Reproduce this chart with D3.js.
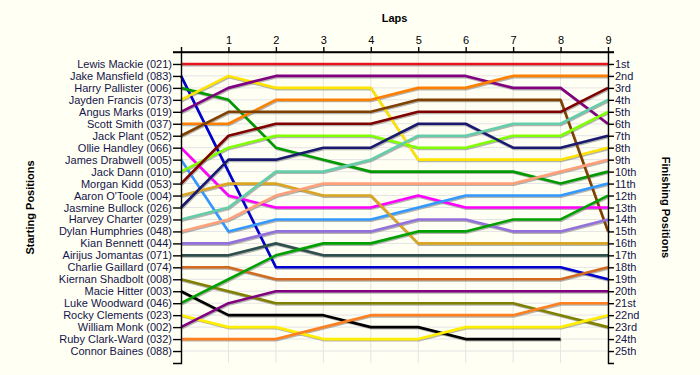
<!DOCTYPE html>
<html>
<head>
<meta charset="utf-8">
<script src="https://cdn.jsdelivr.net/npm/d3@7"></script>
<style>
  html, body { margin: 0; padding: 0; background: #fffff4; }
  .canvas svg { display: block; font-family: "Liberation Sans", Arial, sans-serif; }
</style>
</head>
<body>
<div class="canvas"></div>
<script>
const laps = [0, 1, 2, 3, 4, 5, 6, 7, 8, 9];

const drivers = [
  "Lewis Mackie (021)", "Jake Mansfield (083)", "Harry Pallister (006)",
  "Jayden Francis (073)", "Angus Marks (019)", "Scott Smith (037)",
  "Jack Plant (052)", "Ollie Handley (066)", "James Drabwell (005)",
  "Jack Dann (010)", "Morgan Kidd (053)", "Aaron O'Toole (004)",
  "Jasmine Bullock (026)", "Harvey Charter (029)", "Dylan Humphries (048)",
  "Kian Bennett (044)", "Airijus Jomantas (071)", "Charlie Gaillard (074)",
  "Kiernan Shadbolt (008)", "Macie Hitter (003)", "Luke Woodward (046)",
  "Rocky Clements (023)", "William Monk (002)", "Ruby Clark-Ward (032)",
  "Connor Baines (088)",
];

const finishLabels = [
  "1st", "2nd", "3rd", "4th", "5th", "6th", "7th", "8th", "9th", "10th",
  "11th", "12th", "13th", "14th", "15th", "16th", "17th", "18th", "19th",
  "20th", "21st", "22nd", "23rd", "24th", "25th",
];

// position of each driver at lap 0..9 (null = not running)
const positions = [
  [1, 1, 1, 1, 1, 1, 1, 1, 1, 1],
  [2, 10, 18, 18, 18, 18, 18, 18, 18, 19],
  [3, 4, 8, 9, 10, 10, 10, 10, 11, 10],
  [4, 2, 3, 3, 3, 9, 9, 9, 9, 8],
  [5, 3, 2, 2, 2, 2, 2, 3, 3, 6],
  [6, 6, 4, 4, 4, 3, 3, 2, 2, 2],
  [7, 5, 5, 5, 5, 4, 4, 4, 4, 15],
  [8, 12, 13, 13, 13, 12, 13, 13, 13, 13],
  [9, 15, 14, 14, 14, 13, 12, 12, 12, 11],
  [10, 8, 7, 7, 7, 8, 8, 7, 7, 5],
  [11, 7, 6, 6, 6, 5, 5, 5, 5, 3],
  [12, 11, 11, 12, 12, 16, 16, 16, 16, 16],
  [13, 9, 9, 8, 8, 6, 6, 8, 8, 7],
  [14, 13, 10, 10, 9, 7, 7, 6, 6, 4],
  [15, 14, 12, 11, 11, 11, 11, 11, 10, 9],
  [16, 16, 15, 15, 15, 14, 14, 15, 15, 14],
  [17, 17, 16, 17, 17, 17, 17, 17, 17, 17],
  [18, 18, 19, 19, 19, 19, 19, 19, 19, 18],
  [19, 20, 21, 21, 21, 21, 21, 21, 22, 23],
  [20, 22, 22, 22, 23, 23, 24, 24, 24, null],
  [21, 19, 17, 16, 16, 15, 15, 14, 14, 12],
  [22, 23, 23, 24, 24, 24, 23, 23, 23, 22],
  [23, 21, 20, 20, 20, 20, 20, 20, 20, 20],
  [24, 24, 24, 23, 22, 22, 22, 22, 21, 21],
  [null, null, null, null, null, null, null, null, null, null],
];

const colors = [
  "#e8141c", "#0000d0", "#009a00", "#ffe400", "#800080", "#ff8000",
  "#804000", "#ff00ff", "#3399ff", "#80ff00", "#800000", "#daa520",
  "#191970", "#66cdaa", "#ffa07a", "#9370db", "#2f4f4f", "#d2691e",
  "#808000", "#000000", "#00a000", "#ffee00", "#800080", "#ff8020",
  "#999999",
];

const WIDTH = 700,
  HEIGHT = 375,
  PLOT = { left: 181, right: 608, top: 52, bottom: 363 },
  TICK = 8,
  FONT = 11;

let svg, x, y, line;

document.addEventListener("DOMContentLoaded", function () {
  setSVG();
  setScales();
  drawGrid();
  drawLines();
  drawAxes();
  drawTitles();
});

function setSVG() {
  svg = d3
    .select(".canvas")
    .append("svg")
    .attr("width", WIDTH)
    .attr("height", HEIGHT);

  svg
    .append("rect")
    .attr("width", WIDTH)
    .attr("height", HEIGHT)
    .attr("fill", "#fffff4");
}

function setScales() {
  x = d3.scaleLinear().domain([0, 9]).range([PLOT.left, PLOT.right]);
  y = d3
    .scaleLinear()
    .domain([0, drivers.length + 1])
    .range([PLOT.top, PLOT.bottom]);

  line = d3
    .line()
    .defined((d) => d != null)
    .x((d, i) => x(laps[i]))
    .y((d) => y(d));
}

function drawGrid() {
  const grid = svg.append("g").attr("stroke", "#e4e4e4").attr("stroke-width", 1);

  grid
    .selectAll("line.h")
    .data(d3.range(1, drivers.length + 1))
    .enter()
    .append("line")
    .attr("class", "h")
    .attr("x1", PLOT.left)
    .attr("x2", PLOT.right)
    .attr("y1", (d) => y(d))
    .attr("y2", (d) => y(d));

  grid
    .selectAll("line.v")
    .data(laps.slice(1))
    .enter()
    .append("line")
    .attr("class", "v")
    .attr("x1", (d) => x(d))
    .attr("x2", (d) => x(d))
    .attr("y1", PLOT.top)
    .attr("y2", PLOT.bottom);
}

function drawLines() {
  const rows = positions.map((p, i) => ({ p, color: colors[i] }));

  svg
    .append("g")
    .attr("transform", "translate(0.8, 1.2)")
    .selectAll("path")
    .data(rows)
    .enter()
    .append("path")
    .attr("d", (d) => line(d.p))
    .attr("fill", "none")
    .attr("stroke", "#777")
    .attr("stroke-opacity", 0.55)
    .attr("stroke-width", 2.6);

  svg
    .append("g")
    .selectAll("path")
    .data(rows)
    .enter()
    .append("path")
    .attr("d", (d) => line(d.p))
    .attr("fill", "none")
    .attr("stroke", (d) => d.color)
    .attr("stroke-width", 2.6)
    .attr("stroke-linejoin", "round");
}

function drawAxes() {
  const ticks = d3.range(1, drivers.length + 1);

  const top = svg
    .append("g")
    .attr("transform", `translate(0, ${PLOT.top})`)
    .call(
      d3
        .axisTop(x)
        .tickValues(laps)
        .tickSize(5)
        .tickSizeOuter(0)
        .tickFormat((d) => (d === 0 ? "" : d))
    );

  const left = svg
    .append("g")
    .attr("transform", `translate(${PLOT.left}, 0)`)
    .call(
      d3
        .axisLeft(y)
        .tickValues(ticks)
        .tickSize(TICK)
        .tickPadding(1)
        .tickFormat((d) => drivers[d - 1])
    );

  const right = svg
    .append("g")
    .attr("transform", `translate(${PLOT.right}, 0)`)
    .call(
      d3
        .axisRight(y)
        .tickValues(ticks)
        .tickSize(6)
        .tickPadding(1)
        .tickFormat((d) => finishLabels[d - 1])
    );

  [top, left, right].forEach((axis) => {
    axis.selectAll("path, line").attr("stroke", "#000").attr("stroke-width", 1.4);
    axis
      .selectAll("text")
      .attr("font-size", FONT)
      .attr("font-family", "Liberation Sans, Arial, sans-serif");
  });

  top.selectAll("text").attr("fill", "#000");
  left.selectAll("text").attr("fill", "#14144a");
  right.selectAll("text").attr("fill", "#14144a");

  // extend top axis over the side ticks
  top
    .append("line")
    .attr("x1", PLOT.left - TICK)
    .attr("x2", PLOT.right + 6)
    .attr("stroke", "#000")
    .attr("stroke-width", 1.4);
}

function drawTitles() {
  const midY = (PLOT.top + PLOT.bottom) / 2;

  svg
    .append("text")
    .attr("x", (PLOT.left + PLOT.right) / 2)
    .attr("y", 22)
    .attr("text-anchor", "middle")
    .attr("font-size", FONT)
    .attr("font-weight", "bold")
    .text("Laps");

  svg
    .append("text")
    .attr("transform", `translate(34, ${midY}) rotate(-90)`)
    .attr("text-anchor", "middle")
    .attr("font-size", FONT)
    .attr("font-weight", "bold")
    .text("Starting Positions");

  svg
    .append("text")
    .attr("transform", `translate(662, ${midY}) rotate(90)`)
    .attr("text-anchor", "middle")
    .attr("font-size", FONT)
    .attr("font-weight", "bold")
    .text("Finishing Positions");
}
</script>
</body>
</html>
